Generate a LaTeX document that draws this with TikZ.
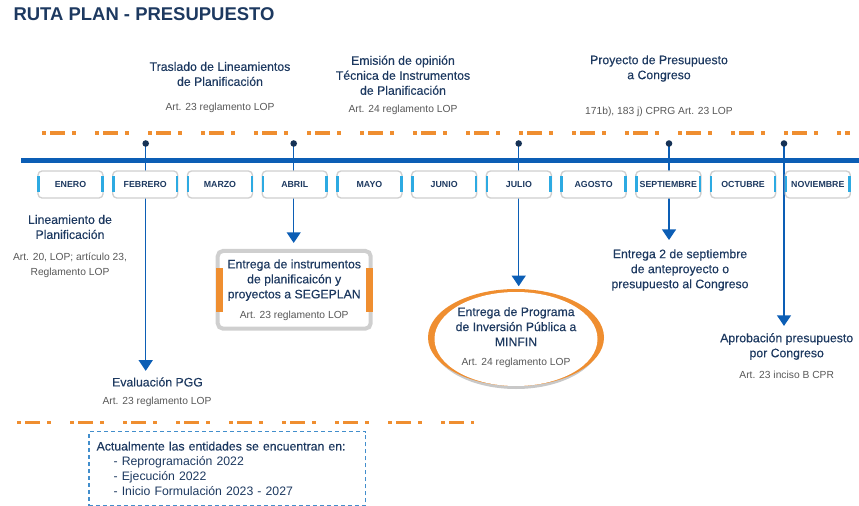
\documentclass[tikz,border=0pt]{standalone}
\usepackage{fontspec}
\setmainfont{Liberation Sans}
\newfontfamily\rpmedium[FakeBold=0.3]{Liberation Sans}
\usetikzlibrary{arrows.meta,calc,shapes.geometric,backgrounds}

\definecolor{rpnavy}{RGB}{29,57,96}
\definecolor{rpgray}{RGB}{88,88,88}
\definecolor{rpblue}{RGB}{12,94,181}
\definecolor{rpdot}{RGB}{22,50,86}
\definecolor{rporange}{RGB}{239,142,48}
\definecolor{rpsky}{RGB}{45,170,226}
\definecolor{rpbox}{RGB}{207,207,207}
\definecolor{rpshadow}{RGB}{200,200,200}
\definecolor{rpdash}{RGB}{66,142,204}

\tikzset{
  hdtext/.style={text=rpnavy, align=center, inner sep=0.75pt, font=\rpmedium\fontsize{9.2}{11.25}\selectfont},
  reftext/.style={text=rpgray, align=center, inner sep=0.75pt, font=\fontsize{7.7}{11.25}\selectfont},
  monthbox/.style={draw=rpbox, line width=1pt, rounded corners=3pt, fill=white, minimum width=48.75pt, minimum height=20.25pt, inner sep=0pt, text=rpnavy, font=\bfseries\fontsize{6.6}{8}\selectfont},
  monthbar/.style={draw=rpsky, line width=1.9pt},
  pinline/.style={draw=rpblue, line width=1.1pt, -{Triangle[width=10.5pt,length=8pt]}},
  pindot/.style={fill=rpdot},
  orangedash/.style={draw=rporange, line width=2.5pt, dash pattern=on 3pt off 3pt on 11.25pt off 5.25pt on 3pt off 14.25pt},
  cardbox/.style={draw=rpbox, line width=3pt, rounded corners=4pt, fill=white, minimum width=114.75pt, minimum height=58.3pt, inner sep=0pt, align=center, text=rpnavy, font=\rpmedium\fontsize{9.2}{11.25}\selectfont},
  cardbar/.style={fill=rporange},
  ovalnode/.style={ellipse, minimum width=132pt, minimum height=73.5pt, inner sep=0pt, align=center, text=rpnavy, font=\rpmedium\fontsize{9.2}{11.25}\selectfont},
  notebox/.style={draw=rpdash, line width=0.9pt, dash pattern=on 3pt off 2.25pt, anchor=north west, text width=196pt, inner xsep=5.8pt, inner ysep=0pt, minimum height=55.5pt, align=left, text=rpnavy, font=\fontsize{9.2}{11.25}\selectfont}
}

\begin{document}
\begin{tikzpicture}[x=0.75pt,y=0.75pt,yscale=-1,xscale=1]
\path[use as bounding box] (0,0) rectangle (859,506);

% Title
\node[anchor=base west, inner sep=0pt, text=rpnavy, font=\bfseries\fontsize{13.85}{16}\selectfont] (title) at (13.3,20.7) {RUTA PLAN - PRESUPUESTO};

% Text Nodes above the line
\node[hdtext] (trasl) at (220,74) {Traslado de Lineamientos\\de Planificación};
\node[reftext] (traslref) at (220,107.5) {Art. 23 reglamento LOP};
\node[hdtext] (emis) at (403,75.3) {Emisión de opinión\\Técnica de Instrumentos\\de Planificación};
\node[reftext] (emisref) at (403,110) {Art. 24 reglamento LOP};
\node[hdtext] (proy) at (659,68.5) {Proyecto de Presupuesto\\a Congreso};
\node[reftext] (proyref) at (659,111.5) {171b), 183 j) CPRG Art. 23 LOP};

% Text Nodes below the line
\node[hdtext] (linea) at (70,227) {Lineamiento de\\Planificación};
\node[reftext] (linearef) at (70,265) {Art. 20, LOP; artículo 23,\\Reglamento LOP};
\node[hdtext] (evalpgg) at (157.5,382) {Evaluación PGG};
\node[reftext] (evalref) at (157,401.5) {Art. 23 reglamento LOP};
\node[hdtext] (septtext) at (680,270) {Entrega 2 de septiembre\\de anteproyecto o\\presupuesto al Congreso};
\node[hdtext] (aprob) at (786.7,346.5) {Aprobación presupuesto\\por Congreso};
\node[reftext] (aprobref) at (786.7,375) {Art. 23 inciso B CPR};

%Shape: Rounded Rect
\node[cardbox] (segeplan) at (294.2,289.8) {Entrega de instrumentos\\de planificaicón y\\proyectos a SEGEPLAN\\[3.5pt]{\normalfont\color{rpgray}\fontsize{7.7}{11.25}\selectfont Art. 23 reglamento LOP}};
\fill[cardbar] ($(segeplan.west)+(0,-21.8)$) rectangle ($(segeplan.west)+(7,21.9)$);
\fill[cardbar] ($(segeplan.east)+(-7,-21.8)$) rectangle ($(segeplan.east)+(0,21.9)$);

%Shape: Ellipse
\node[ovalnode] (minfin) at (516,337.5) {Entrega de Programa\\de Inversión Pública a\\MINFIN\\[3.5pt]{\normalfont\color{rpgray}\fontsize{7.7}{11.25}\selectfont Art. 24 reglamento LOP}};
\begin{scope}[on background layer]
\fill[rpshadow] ($(minfin.center)+(0,2.5)$) ellipse (85 and 49);
\fill[rporange] (minfin.center) ellipse (88 and 48.5);
\fill[white] ($(minfin.center)+(0,1.5)$) ellipse (81.5 and 47);
\end{scope}

% Pins
\coordinate (pfeb) at (145.7,143.5);
\coordinate (pabr) at (293.7,143.5);
\coordinate (pjul) at (518.7,143.5);
\coordinate (psep) at (669,143.5);
\coordinate (pnov) at (784,143.5);

%Straight Lines
\draw[pinline, shorten >=4pt] (pfeb) -- (pfeb |- evalpgg.north);
\draw[pinline, shorten >=4.5pt] (pabr) -- (pabr |- segeplan.north);
\draw[pinline, shorten >=1.5pt] (pjul) -- (pjul |- minfin.north);
\draw[pinline, shorten >=6pt] (psep) -- (psep |- septtext.north);
\draw[pinline, shorten >=4.5pt] (pnov) -- (pnov |- aprob.north);

% Orange dash lines
\draw[orangedash] (42,133) -- (850,133);
\draw[orangedash] (17,422.7) -- (474,422.7);

% Time line
\draw[rpblue, line width=3.75pt] (21,160) -- (859,160);

% Months
\foreach \mname [count=\i] in {ENERO,FEBRERO,MARZO,ABRIL,MAYO,JUNIO,JULIO,AGOSTO,SEPTIEMBRE,OCTUBRE,NOVIEMBRE}{
  \node[monthbox] (m\i) at ({70.5+74.73*(\i-1)},184.5) {\mname};
  \draw[monthbar] ($(m\i.north west)+(1.3,5.7)$) -- ($(m\i.south west)+(1.3,-6.3)$);
  \draw[monthbar] ($(m\i.north east)+(-1.3,5.7)$) -- ($(m\i.south east)+(-1.3,-6.3)$);
}

%Shape: Circle
\foreach \p in {pfeb,pabr,pjul,psep,pnov}
  \fill[pindot] (\p) circle (3.3);

% Note box
\node[notebox] (estado) at (88.3,431) {{\rpmedium Actualmente las entidades se encuentran en:}\\\hspace*{12.75pt}- Reprogramación 2022\\\hspace*{12.75pt}- Ejecución 2022\\\hspace*{12.75pt}- Inicio Formulación 2023 - 2027};

\end{tikzpicture}
\end{document}
